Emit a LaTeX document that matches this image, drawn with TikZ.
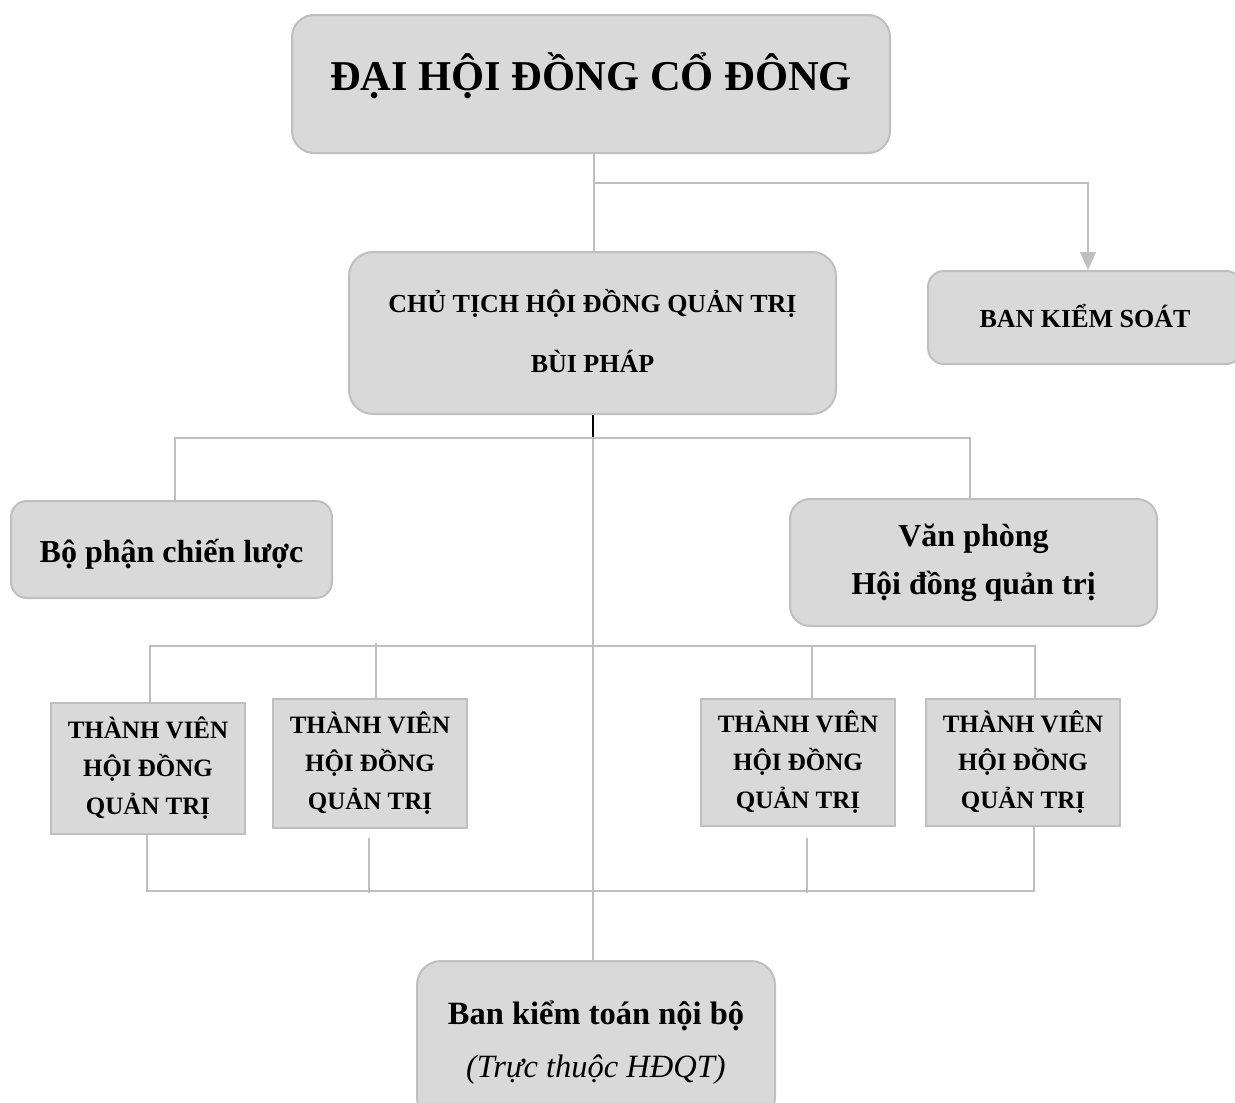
\documentclass[tikz,border=0pt]{standalone}
\usepackage{fontspec}
\setmainfont{Liberation Serif}
\usetikzlibrary{arrows.meta,calc}
\definecolor{boxfill}{HTML}{D9D9D9}
\definecolor{boxline}{HTML}{BFBFBF}
\begin{document}
\begin{tikzpicture}[x=1pt,y=-1pt,
  box/.style={draw=boxline,fill=boxfill,line width=2pt,align=center,inner sep=0pt,anchor=north},
  rbox/.style={box,rounded corners=#1},
  conn/.style={draw=boxline,line width=2pt},
  f26/.style={font=\fontsize{26}{60}\selectfont\bfseries},
  f25/.style={font=\fontsize{25}{38}\selectfont\bfseries},
  f32/.style={font=\fontsize{32}{48}\selectfont\bfseries},
]
\useasboundingbox (0,0) rectangle (1235,1103);

% boxes
\node[rbox=22pt, minimum width=598pt, text height=75pt, text depth=63pt,
      font=\fontsize{42.5}{50}\selectfont\bfseries] (dhd) at (591,14) {ĐẠI HỘI ĐỒNG CỔ ĐÔNG};
\node[rbox=24pt, f26, minimum width=487pt, text height=120pt, text depth=42pt] (ct) at (592.5,251)
  {CHỦ TỊCH HỘI ĐỒNG QUẢN TRỊ\\BÙI PHÁP};
\node[rbox=16pt, f26, minimum width=314pt, text height=56pt, text depth=37pt] (bks) at (1085,270)
  {BAN KIỂM SOÁT};
\node[rbox=16pt, f32, minimum width=321pt, text height=61pt, text depth=36pt] (bp) at (171.5,500)
  {Bộ phận chiến lược};
\node[rbox=20pt, f32, minimum width=367pt, text height=95pt, text depth=32pt] (vp) at (973.5,498)
  {Văn phòng\\Hội đồng quản trị};
\node[box, f25, minimum width=194pt, text height=111pt, text depth=20pt] (tv1) at (148,702)
  {THÀNH VIÊN\\HỘI ĐỒNG\\QUẢN TRỊ};
\node[box, f25, minimum width=194pt, text height=110pt, text depth=19pt] (tv2) at (370,698)
  {THÀNH VIÊN\\HỘI ĐỒNG\\QUẢN TRỊ};
\node[box, f25, minimum width=194pt, text height=109pt, text depth=18pt] (tv3) at (798,698)
  {THÀNH VIÊN\\HỘI ĐỒNG\\QUẢN TRỊ};
\node[box, f25, minimum width=194pt, text height=109pt, text depth=18pt] (tv4) at (1023,698)
  {THÀNH VIÊN\\HỘI ĐỒNG\\QUẢN TRỊ};
\node[rbox=24pt, minimum width=358pt, text height=116pt, text depth=44pt,
      font=\fontsize{32.5}{53}\selectfont\bfseries] (bk) at (596,960)
  {Ban kiểm toán nội bộ\\{\mdseries\itshape (Trực thuộc HĐQT)}};

% junction coordinates
\coordinate (j1) at (594,183);
\coordinate (a1) at (1088,183);
\coordinate (j2) at (593,438);
\coordinate (b1) at (175,438);
\coordinate (b2) at (970,438);
\coordinate (m1) at (150,646);
\coordinate (m2) at (376,643);
\coordinate (m3) at (812,646);
\coordinate (m4) at (1035,646);
\coordinate (n1) at (147,891);
\coordinate (n2) at (369,838);
\coordinate (n2e) at (369,893);
\coordinate (n3) at (807,838);
\coordinate (n3e) at (807,893);
\coordinate (n4) at (1034,891);

% connectors
\draw[conn] (dhd.south -| j1) -- (j1 |- ct.north);
\draw[conn,-{Triangle[width=16pt,length=18pt]}] (j1) -- (a1) -- (a1 |- bks.north);
\draw[black,line width=2pt] (ct.south -| j2) -- (j2);
\draw[conn] (b1 |- bp.north) -- (b1) -- (b2) -- (b2 |- vp.north);
\draw[conn] (j2) -- (j2 |- bk.north);
\draw[conn] (m1 |- tv1.north) -- (m1) -- (m4) -- (m4 |- tv4.north);
\draw[conn] (m2) -- (m2 |- tv2.north);
\draw[conn] (m3) -- (m3 |- tv3.north);
\draw[conn] (n1 |- tv1.south) -- (n1) -- (n4) -- (n4 |- tv4.south);
\draw[conn] (n2) -- (n2e);
\draw[conn] (n3) -- (n3e);
\end{tikzpicture}
\end{document}
